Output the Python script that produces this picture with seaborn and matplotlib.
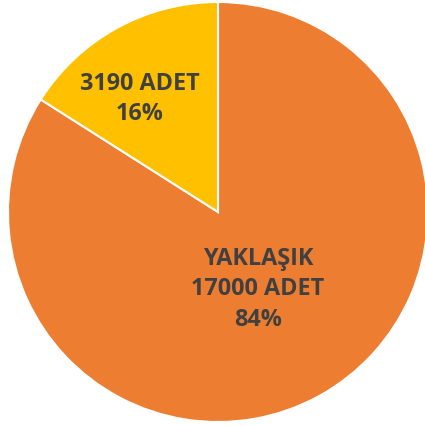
import numpy as np
import seaborn as sns
import matplotlib.pyplot as plt

# Data
labels = ["YAKLAŞIK\n17000 ADET", "3190 ADET"]
shares = [84, 16]
colors = ["#ED7D31", "#FFC000"]
label_dist = [0.415, 0.655]
label_turn = [-1.5, 6]  # degrees, nudges the label off the wedge middle

sns.set_theme(style="white")
plt.rcParams["font.family"] = ["Open Sans", "DejaVu Sans"]

fig = plt.figure(figsize=(4.25, 4.26), dpi=100)
ax = fig.add_axes([0, 0, 1, 1])

wedges, _ = ax.pie(
    shares,
    colors=colors,
    startangle=90,
    counterclock=False,
    radius=1.0,
    wedgeprops={"edgecolor": "white", "linewidth": 1.5},
)

# labels inside each wedge
for w, lab, pct, d, t in zip(wedges, labels, shares, label_dist, label_turn):
    mid = np.deg2rad((w.theta1 + w.theta2) / 2 + t)
    ax.text(
        d * np.cos(mid),
        d * np.sin(mid),
        f"{lab}\n{pct}%",
        ha="center",
        va="center",
        fontsize=16.8,
        fontweight="bold",
        color="#404040",
        linespacing=1.38,
    )

ax.set_xlim(-218 / 210, (425 - 218) / 210)
ax.set_ylim(-(426 - 212) / 210, 212 / 210)
ax.set_aspect("equal")
ax.axis("off")

fig.savefig("out.png", dpi=100, facecolor="white")
